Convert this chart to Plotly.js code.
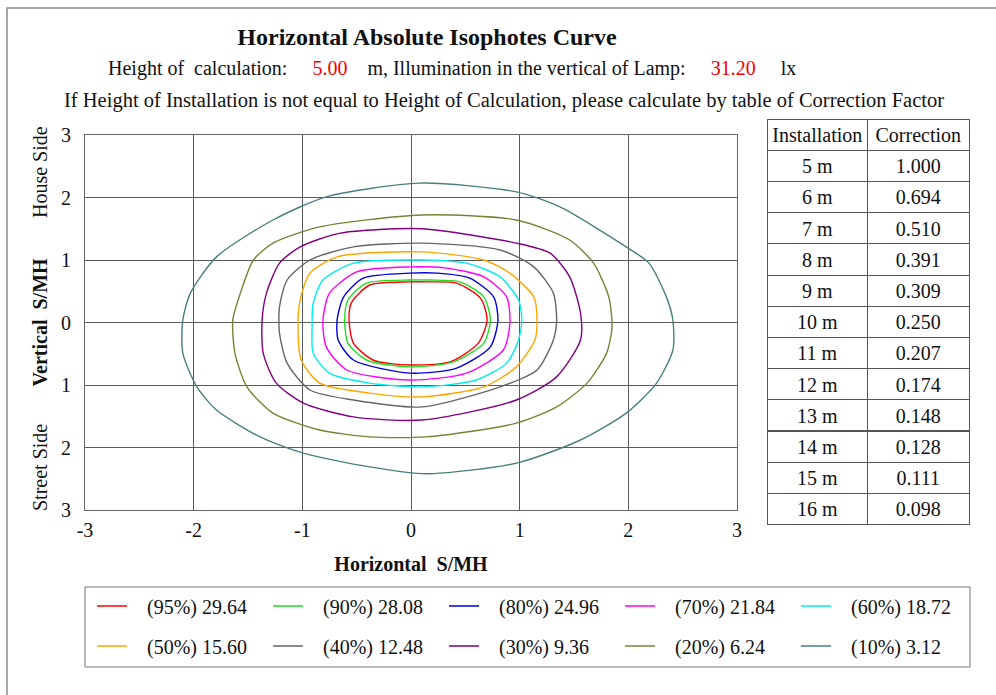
<!DOCTYPE html>
<html>
<head>
<meta charset="utf-8">
<script src="https://cdn.plot.ly/plotly-3.0.1.min.js"></script>
<style>html,body{margin:0;padding:0;background:#fff;}#chart{width:996px;height:695px;}</style>
</head>
<body>
<div id="chart"></div>
<script>
// ---- contour data (x, y in S/MH) ----
const levelPercents = ['(95%)','(90%)','(80%)','(70%)','(60%)','(50%)','(40%)','(30%)','(20%)','(10%)'];
const levelValues = ['29.64','28.08','24.96','21.84','18.72','15.60','12.48','9.36','6.24','3.12'];
const levelColors = ['#ff0000','#22dd22','#0000dd','#ff00ff','#00eeee',
                     '#ffa500','#666666','#800080','#7a8236','#4a7f7f'];

const x95 = [-0.01,-0.38,-0.55,-0.57,-0.53,-0.35,-0.01,0.36,0.62,0.70,0.64,0.42,0.17,-0.01];
const y95 = [0.65,0.60,0.31,0.04,-0.33,-0.60,-0.68,-0.63,-0.33,0.04,0.39,0.63,0.65,0.65];
const x90 = [-0.01,-0.41,-0.58,-0.61,-0.58,-0.41,-0.01,0.39,0.67,0.73,0.67,0.45,0.17,-0.01];
const y90 = [0.68,0.63,0.36,0.04,-0.33,-0.60,-0.71,-0.63,-0.33,0.04,0.41,0.65,0.68,0.68];
const x80 = [-0.01,-0.44,-0.62,-0.68,-0.67,-0.53,-0.01,0.42,0.73,0.80,0.76,0.54,0.24,-0.01];
const y80 = [0.79,0.71,0.41,0.04,-0.28,-0.60,-0.81,-0.73,-0.39,0.04,0.41,0.71,0.79,0.79];
const x70 = [-0.01,-0.50,-0.75,-0.81,-0.78,-0.59,-0.01,0.51,0.85,0.91,0.88,0.67,0.33,-0.01];
const y70 = [0.89,0.81,0.47,0.04,-0.39,-0.76,-0.92,-0.81,-0.44,-0.01,0.41,0.73,0.87,0.89];
const x60 = [0.08,-0.53,-0.81,-0.90,-0.91,-0.90,-0.75,-0.38,0.10,0.60,0.88,0.99,1.02,0.99,0.82,0.51,0.08];
const y60 = [1.00,0.95,0.68,0.31,-0.07,-0.49,-0.81,-0.97,-1.03,-0.92,-0.65,-0.28,0.04,0.36,0.73,0.95,1.00];
const x50 = [0.10,-0.68,-0.93,-1.02,-1.04,-1.01,-0.84,-0.38,0.10,0.67,0.97,1.14,1.16,1.13,0.91,0.67,0.10];
const y50 = [1.13,1.05,0.79,0.36,-0.07,-0.60,-0.97,-1.13,-1.19,-1.03,-0.71,-0.28,0.04,0.41,0.79,1.00,1.13];
const x40 = [0.10,-0.53,-0.93,-1.14,-1.21,-1.21,-1.14,-0.93,-0.53,0.10,0.82,1.16,1.31,1.34,1.31,1.13,0.82,0.10];
const y40 = [1.27,1.21,1.00,0.68,0.25,-0.17,-0.65,-1.08,-1.24,-1.35,-1.03,-0.76,-0.28,0.04,0.47,0.89,1.16,1.27];
const x30 = [0.10,-0.65,-1.02,-1.21,-1.33,-1.37,-1.36,-1.24,-0.99,-0.53,0.10,0.97,1.34,1.56,1.56,1.46,1.28,0.97,0.10];
const y30 = [1.50,1.43,1.21,0.95,0.47,0.04,-0.49,-0.97,-1.29,-1.51,-1.56,-1.24,-0.87,-0.28,0.15,0.73,1.11,1.27,1.50];
const x20 = [0.10,-0.84,-1.27,-1.45,-1.57,-1.64,-1.62,-1.51,-1.27,-0.84,-0.38,0.14,0.97,1.34,1.62,1.80,1.85,1.82,1.68,1.46,0.97,0.10];
const y20 = [1.72,1.53,1.27,1.00,0.47,0.04,-0.49,-1.03,-1.45,-1.72,-1.83,-1.83,-1.61,-1.35,-0.97,-0.49,-0.07,0.41,0.95,1.32,1.64,1.72];
const x10 = [0.08,-0.78,-1.27,-1.79,-2.03,-2.10,-2.10,-1.97,-1.79,-1.39,-0.99,-0.38,0.14,0.97,1.56,1.98,2.26,2.41,2.41,2.35,2.19,1.98,1.37,0.97,0.08];
const y10 = [2.23,2.01,1.64,1.05,0.47,0.04,-0.49,-1.03,-1.40,-1.83,-2.09,-2.31,-2.42,-2.25,-1.88,-1.45,-0.97,-0.44,0.04,0.41,0.95,1.21,1.85,2.09,2.23];

// ---- axis ticks ----
const xTickVals = [-3,-2,-1,0,1,2,3];
const xTickText = ['-3','-2','-1','0','1','2','3'];
const yTickVals = [-3,-2,-1,0,1,2,3];
const yTickText = ['3','2','1','0','1','2','3'];

// ---- correction factor table ----
const installHeights = ['5 m','6 m','7 m','8 m','9 m','10 m','11 m','12 m','13 m','14 m','15 m','16 m'];
const correctionFactors = [1.000,0.694,0.510,0.391,0.309,0.250,0.207,0.174,0.148,0.128,0.111,0.098];

const calcHeight = '5.00';
const vertIllum = '31.20';

const W = 996, H = 695;
const px = v => v / W;
const py = v => 1 - v / H;
const FONT = 'Liberation Serif, Times New Roman, serif';
const sp = n => '\u00a0'.repeat(n);

const xs = [x95,x90,x80,x70,x60,x50,x40,x30,x20,x10];
const ys = [y95,y90,y80,y70,y60,y50,y40,y30,y20,y10];

const traces = xs.map((xv, i) => ({
  type: 'scatter', mode: 'lines', x: xv, y: ys[i],
  name: sp(3) + levelPercents[i] + sp(1) + levelValues[i],
  line: {color: levelColors[i], width: 1.4, shape: 'spline', smoothing: 0.7},
  legend: i < 5 ? 'legend' : 'legend2',
  hoverinfo: 'skip'
}));

traces.push({
  type: 'table',
  domain: {x: [px(767), px(970)], y: [py(526), py(119)]},
  columnwidth: [101, 102],
  header: {
    values: ['Installation', 'Correction'],
    height: 31.2, align: 'center',
    line: {color: '#555', width: 1}, fill: {color: '#fff'},
    font: {family: FONT, size: 20, color: '#111'}
  },
  cells: {
    values: [installHeights, correctionFactors],
    format: ['', '.3f'],
    height: 31.2, align: 'center',
    line: {color: '#555', width: 1}, fill: {color: '#fff'},
    font: {family: FONT, size: 20, color: '#111'}
  }
});

const legendCommon = {
  orientation: 'h', xanchor: 'left', yanchor: 'middle',
  entrywidth: 131, entrywidthmode: 'pixels',
  font: {family: FONT, size: 20, color: '#111'},
  bgcolor: 'rgba(0,0,0,0)', borderwidth: 0, itemclick: false
};

const layout = {
  width: W, height: H,
  margin: {l: 0, r: 0, t: 0, b: 0},
  paper_bgcolor: '#fff', plot_bgcolor: '#fff',
  font: {family: FONT, color: '#111'},
  title: {
    text: '<b>Horizontal Absolute Isophotes Curve</b>',
    x: px(427), xanchor: 'center', y: py(37), yanchor: 'middle',
    font: {family: FONT, size: 24, color: '#111'}
  },
  xaxis: {
    domain: [px(85), px(737)], range: [-3, 3],
    tickvals: xTickVals, ticktext: xTickText, ticks: '', showgrid: true, gridcolor: '#5a5a5a', gridwidth: 1,
    zeroline: false, showline: true, mirror: true, linecolor: '#666', linewidth: 1,
    tickfont: {family: FONT, size: 20, color: '#111'}, ticklabelstandoff: 2,
    title: {text: '<b>Horizontal  S/MH</b>', font: {family: FONT, size: 20, color: '#111'}, standoff: 16},
    automargin: false, fixedrange: true
  },
  yaxis: {
    domain: [py(510), py(135)], range: [-3, 3],
    tickvals: yTickVals, ticktext: yTickText, ticks: '', showgrid: true, gridcolor: '#5a5a5a', gridwidth: 1,
    zeroline: false, showline: true, mirror: true, linecolor: '#666', linewidth: 1,
    tickfont: {family: FONT, size: 20, color: '#111'}, ticklabelstandoff: 9,
    title: {text: '<b>Vertical  S/MH</b>', font: {family: FONT, size: 20, color: '#111'}, standoff: 8},
    automargin: false, fixedrange: true
  },
  legend: Object.assign({x: px(92), y: py(606)}, legendCommon),
  legend2: Object.assign({x: px(92), y: py(646)}, legendCommon),
  showlegend: true,
  annotations: [
    {xref: 'paper', yref: 'paper', x: px(452), y: py(68), xanchor: 'center', yanchor: 'middle', showarrow: false,
     font: {family: FONT, size: 20, color: '#111'},
     text: 'Height of' + sp(2) + 'calculation:' + sp(5) + '<span style="color:#ee0000">' + calcHeight +
           '</span>' + sp(4) + 'm, Illumination in the vertical of Lamp:' + sp(5) + '<span style="color:#ee0000">' +
           vertIllum + '</span>' + sp(5) + 'lx'},
    {xref: 'paper', yref: 'paper', x: px(504), y: py(100), xanchor: 'center', yanchor: 'middle', showarrow: false,
     font: {family: FONT, size: 20.5, color: '#111'},
     text: 'If Height of Installation is not equal to Height of Calculation, please calculate by table of Correction Factor'},
    {xref: 'paper', yref: 'paper', x: px(40), y: py(172), xanchor: 'center', yanchor: 'middle', showarrow: false,
     textangle: -90, font: {family: FONT, size: 20, color: '#111'}, text: 'House Side'},
    {xref: 'paper', yref: 'paper', x: px(40), y: py(468), xanchor: 'center', yanchor: 'middle', showarrow: false,
     textangle: -90, font: {family: FONT, size: 20, color: '#111'}, text: 'Street Side'}
  ],
  shapes: [
    {type: 'rect', xref: 'paper', yref: 'paper', x0: px(7), x1: 1.02, y0: -0.02, y1: py(8),
     line: {color: '#8a8a8a', width: 1.5}, fillcolor: 'rgba(0,0,0,0)', layer: 'below'},
    {type: 'rect', xref: 'paper', yref: 'paper', x0: px(85), x1: px(970), y0: py(667), y1: py(587),
     line: {color: '#777', width: 1}, fillcolor: 'rgba(0,0,0,0)'}
  ]
};

Plotly.newPlot('chart', traces, layout, {displayModeBar: false, staticPlot: true});
</script>
</body>
</html>
